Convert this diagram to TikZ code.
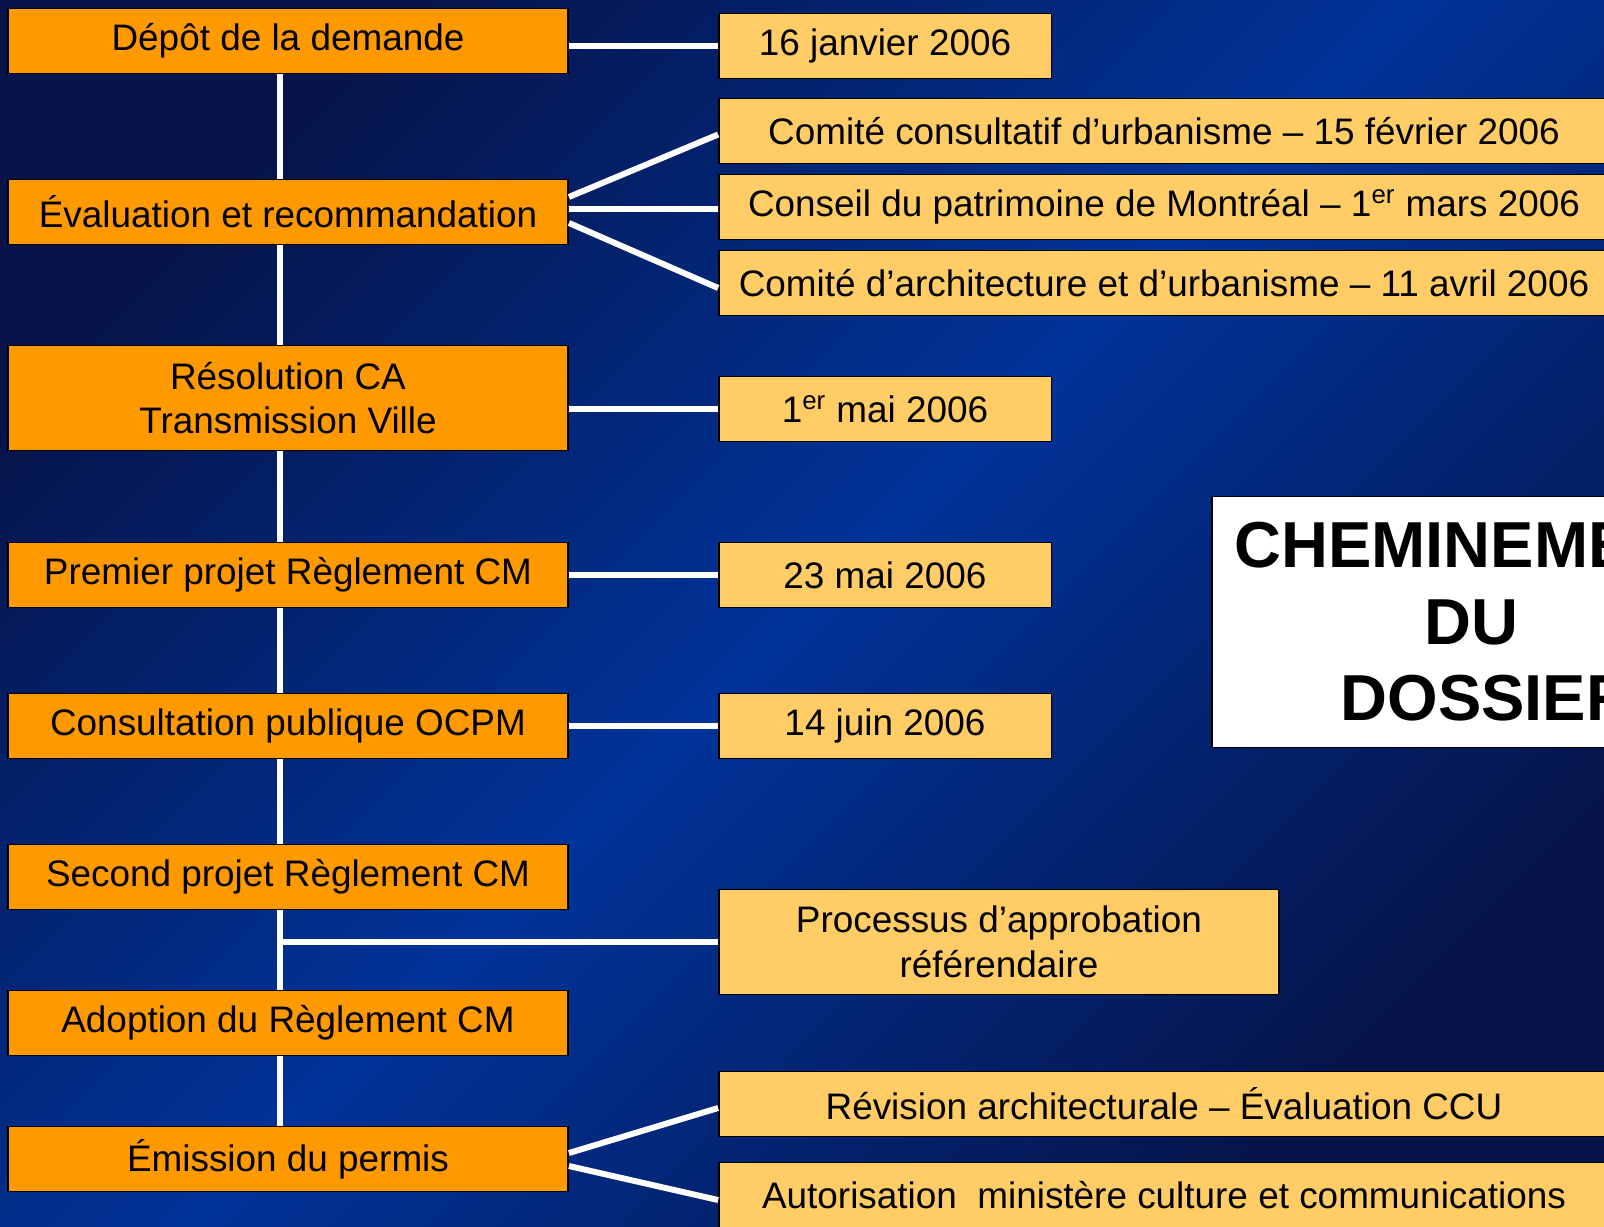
\documentclass[tikz,border=0pt]{standalone}
\usepackage{fontspec}
\setmainfont{Liberation Sans}
\usepackage{tikz}
\usetikzlibrary{calc}
\usepackage{xcolor}

\definecolor{stepfill}{HTML}{FF9900}
\definecolor{datefill}{HTML}{FFCC66}
\definecolor{bgblue}{HTML}{003399}
\definecolor{bgdark}{HTML}{06144A}

\begin{document}
\begin{tikzpicture}[x=0.02cm, y=-0.02cm,
    stepbox/.style={draw=black, line width=1.1pt, fill=stepfill, minimum width=11.2cm, minimum height=1.3cm,
        align=center, inner sep=0pt, font=\fontsize{21}{25.5}\selectfont},
    datebox/.style={draw=black, line width=1.1pt, fill=datefill, minimum height=1.3cm,
        align=center, inner sep=0pt, font=\fontsize{21}{25.5}\selectfont},
    link/.style={white, line width=3.4pt}]
    \useasboundingbox (0, 0) rectangle (1604, 1226);
    \clip (0, 0) rectangle (1604, 1226);
    \shade[left color=bgdark, right color=bgdark, middle color=bgblue, shading angle=45]
        (0, 0) rectangle (1604, 1226);

    % etapes
    \node[stepbox] (depot) at (288, 41) {\raisebox{-2pt}{Dépôt de la demande}};
    \node[stepbox] (eval) at (288, 212) {Évaluation et recommandation};
    \node[stepbox, minimum height=2.1cm] (resol) at (288, 398) {Résolution CA\\Transmission Ville};
    \node[stepbox] (premier) at (288, 575) {Premier projet Règlement CM};
    \node[stepbox] (consult) at (288, 726) {Consultation publique OCPM};
    \node[stepbox] (second) at (288, 877) {Second projet Règlement CM};
    \node[stepbox] (adopt) at (288, 1023) {Adoption du Règlement CM};
    \node[stepbox] (emis) at (288, 1159) {Émission du permis};

    % dates
    \node[datebox, minimum width=6.66cm] (d1) at (885, 46) {\raisebox{-2pt}{16 janvier 2006}};
    \node[datebox, minimum width=17.8cm] (c1) at (1164, 131) {Comité consultatif d’urbanisme – 15 février 2006};
    \node[datebox, minimum width=17.8cm] (c2) at (1164, 207) {Conseil du patrimoine de Montréal – 1\textsuperscript{er} mars 2006};
    \node[datebox, minimum width=17.8cm] (c3) at (1164, 283) {Comité d’architecture et d’urbanisme – 11 avril 2006};
    \node[datebox, minimum width=6.66cm] (d2) at (885, 409) {1\textsuperscript{er} mai 2006};
    \node[datebox, minimum width=6.66cm] (d3) at (885, 575) {23 mai 2006};
    \node[datebox, minimum width=6.66cm] (d4) at (885, 726) {14 juin 2006};
    \node[datebox, minimum width=11.2cm, minimum height=2.1cm] (proc) at (999, 942) {Processus d’approbation\\ référendaire};
    \node[datebox, minimum width=17.8cm] (r1) at (1164, 1104) {Révision architecturale – Évaluation CCU};
    \node[datebox, minimum width=17.8cm] (r2) at (1164, 1195) {Autorisation~ ministère culture et communications};

    \node[draw=black, line width=0.8pt, fill=white, minimum width=10.36cm, minimum height=5.02cm,
        align=center, font=\bfseries\fontsize{37}{43.6}\selectfont] (titre) at (1471, 622)
        {\hspace{6pt}CHEMINEMENT\\DU\\\hspace{18pt}DOSSIER};

    % colonne
    \draw[link] ([xshift=-0.16cm]depot.south) -- ([xshift=-0.16cm]eval.north);
    \draw[link] ([xshift=-0.16cm]eval.south) -- ([xshift=-0.16cm]resol.north);
    \draw[link] ([xshift=-0.16cm]resol.south) -- ([xshift=-0.16cm]premier.north);
    \draw[link] ([xshift=-0.16cm]premier.south) -- ([xshift=-0.16cm]consult.north);
    \draw[link] ([xshift=-0.16cm]consult.south) -- ([xshift=-0.16cm]second.north);
    \draw[link] ([xshift=-0.16cm]second.south) coordinate (spine) -- ([xshift=-0.16cm]adopt.north);
    \draw[link] ([xshift=-0.16cm]adopt.south) -- ([xshift=-0.16cm]emis.north);

    % liens
    \draw[link] (depot.east |- d1.west) -- (d1.west);
    \draw[link] ([yshift=0.3cm]eval.east) -- ([yshift=-0.07cm]c1.west);
    \draw[link] ([yshift=0.06cm]eval.east) -- ([yshift=-0.04cm]c2.west);
    \draw[link] ([yshift=-0.22cm]eval.east) -- ([yshift=-0.1cm]c3.west);
    \draw[link] (resol.east |- d2.west) -- (d2.west);
    \draw[link] (premier.east |- d3.west) -- (d3.west);
    \draw[link] (consult.east |- d4.west) -- (d4.west);
    \draw[link] (spine |- proc.west) -- (proc.west);
    \draw[link] ([yshift=0.12cm]emis.east) -- ([yshift=-0.08cm]r1.west);
    \draw[link] ([yshift=-0.14cm]emis.east) -- ([yshift=-0.1cm]r2.west);
\end{tikzpicture}
\end{document}
